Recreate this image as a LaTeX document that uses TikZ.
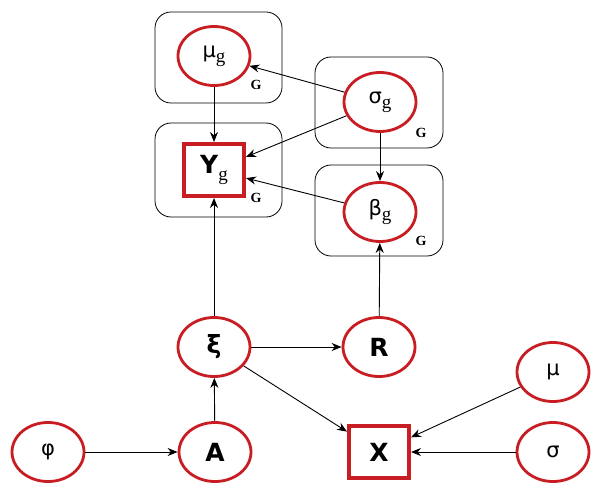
\documentclass[tikz,border=0pt]{standalone}
\usepackage{fontspec}
\setmainfont{DejaVu Sans}
\newfontfamily\gfont{Liberation Serif}
\usetikzlibrary{shapes.geometric,arrows.meta}
\definecolor{nodered}{RGB}{200,30,35}
\newcommand{\sg}{\raisebox{-0.25em}{\gfont\mdseries\fontsize{19}{19}\selectfont g}}
\tikzset{
  var/.style={ellipse,draw=nodered,line width=2.8pt,minimum width=72pt,minimum height=59pt,inner sep=0pt,fill=white,font=\fontsize{21}{21}\selectfont},
  bvar/.style={var,font=\bfseries\fontsize{25}{25}\selectfont},
  obs/.style={rectangle,draw=nodered,line width=4pt,minimum width=60pt,minimum height=52pt,inner sep=0pt,fill=white,font=\bfseries\fontsize{25}{25}\selectfont},
  plate/.style={draw=black,line width=0.8pt,rounded corners=16pt},
  glab/.style={font=\gfont\bfseries\fontsize{14}{14}\selectfont,inner sep=0pt},
  edge/.style={draw=black,line width=0.9pt,-{Stealth[length=10pt,width=8pt]}}
}
\begin{document}
\begin{tikzpicture}[x=1pt,y=-1pt]
\useasboundingbox (0,0) rectangle (602,494);
% plates
\draw[plate] (155,12) rectangle (282,103);
\draw[plate] (155,123) rectangle (282,217);
\draw[plate] (315,57) rectangle (443,148);
\draw[plate] (315,165) rectangle (443,256);
% nodes
\node[var] (mug) at (214,56) {μ\sg};
\node[var] (sigg) at (380,102) {σ\sg};
\node[var] (betag) at (380,212) {β\sg};
\node[obs] (Yg) at (214,170) {Y\sg};
\node[bvar] (xi) at (214,347) {ξ};
\node[bvar] (R) at (379,347) {R};
\node[var] (mu) at (553,372) {μ};
\node[var] (sig) at (553,452) {σ};
\node[var] (phi) at (48,452) {φ};
\node[bvar] (A) at (215,452) {A};
\node[obs] (X) at (379,452) {X};
% plate labels
\node[glab] (g1) at (256,85) {G};
\node[glab] (g2) at (421,133) {G};
\node[glab] (g3) at (256,198) {G};
\node[glab] (g4) at (421,241) {G};
% edges
\draw[edge] (mug) -- (Yg);
\draw[edge] (sigg) -- (mug);
\draw[edge] (sigg) -- (Yg);
\draw[edge] (sigg) -- (betag);
\draw[edge] (betag) -- (Yg);
\draw[edge] (xi) -- (Yg);
\draw[edge] (R) -- (betag);
\draw[edge] (xi) -- (R);
\draw[edge] (xi) -- (X);
\draw[edge] (A) -- (xi);
\draw[edge] (phi) -- (A);
\draw[edge] (mu) -- (X);
\draw[edge] (sig) -- (X);
\end{tikzpicture}
\end{document}
